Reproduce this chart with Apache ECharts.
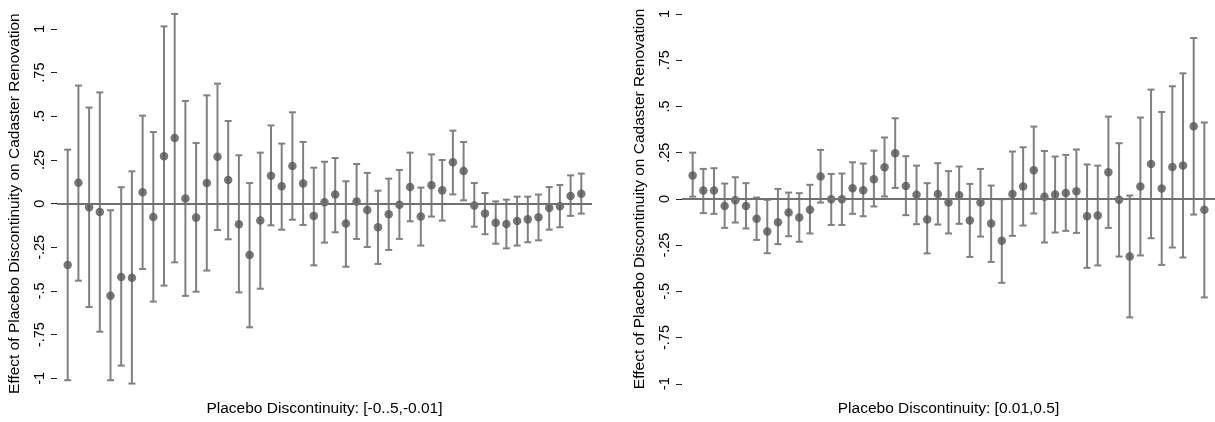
<!DOCTYPE html>
<html>
<head>
<meta charset="utf-8">
<script src="https://cdn.jsdelivr.net/npm/echarts@6/dist/echarts.min.js"></script>
<style>
  html, body { margin: 0; padding: 0; background: #fff; }
  #chart { width: 1215px; height: 422px; }
</style>
</head>
<body>
<div id="chart"></div>
<script>
// placebo cutoffs, 49 per panel, numbered 1..49 along the hidden x axis
const positions = Array.from({ length: 49 }, (_, i) => i + 1)

const yTicks = [-1, -0.75, -0.5, -0.25, 0, 0.25, 0.5, 0.75, 1]

// left panel: [-0..5,-0.01]
const leftEst = [
  -0.351, 0.120, -0.020, -0.048, -0.527, -0.420, -0.424, 0.065, -0.076, 0.271,
  0.376, 0.029, -0.080, 0.118, 0.269, 0.135, -0.118, -0.294, -0.097, 0.160,
  0.099, 0.216, 0.115, -0.070, 0.008, 0.052, -0.114, 0.013, -0.036, -0.135,
  -0.061, -0.006, 0.095, -0.074, 0.105, 0.076, 0.237, 0.187, -0.011, -0.057,
  -0.109, -0.116, -0.099, -0.090, -0.078, -0.025, -0.015, 0.044, 0.057
]
const leftLo = [
  -1.011, -0.441, -0.592, -0.733, -1.011, -0.927, -1.030, -0.374, -0.561, -0.469,
  -0.336, -0.528, -0.504, -0.383, -0.151, -0.204, -0.508, -0.708, -0.487, -0.124,
  -0.149, -0.092, -0.122, -0.353, -0.223, -0.164, -0.361, -0.202, -0.248, -0.345,
  -0.265, -0.202, -0.101, -0.240, -0.074, -0.097, 0.053, 0.019, -0.132, -0.175,
  -0.229, -0.256, -0.240, -0.221, -0.210, -0.149, -0.135, -0.070, -0.057
]
const leftHi = [
  0.309, 0.676, 0.550, 0.637, -0.038, 0.094, 0.185, 0.504, 0.410, 1.015,
  1.086, 0.588, 0.347, 0.620, 0.687, 0.473, 0.277, 0.118, 0.292, 0.448,
  0.344, 0.523, 0.353, 0.206, 0.240, 0.261, 0.128, 0.227, 0.176, 0.074,
  0.143, 0.193, 0.292, 0.092, 0.282, 0.250, 0.418, 0.353, 0.118, 0.061,
  0.013, 0.023, 0.040, 0.040, 0.052, 0.095, 0.107, 0.162, 0.172
]

// right panel: [0.01,0.5]
const rightEst = [
  0.126, 0.045, 0.045, -0.038, -0.008, -0.038, -0.108, -0.177, -0.126, -0.074,
  -0.101, -0.059, 0.121, -0.002, -0.002, 0.058, 0.047, 0.106, 0.171, 0.247,
  0.070, 0.022, -0.112, 0.027, -0.020, 0.020, -0.117, -0.020, -0.133, -0.227,
  0.027, 0.067, 0.155, 0.011, 0.023, 0.032, 0.041, -0.094, -0.090, 0.144,
  -0.005, -0.312, 0.067, 0.189, 0.056, 0.173, 0.180, 0.393, -0.059
]
const rightLo = [
  0.012, -0.077, -0.081, -0.157, -0.128, -0.160, -0.222, -0.294, -0.245, -0.202,
  -0.232, -0.187, -0.020, -0.141, -0.141, -0.081, -0.094, -0.041, 0.013, 0.059,
  -0.088, -0.137, -0.295, -0.139, -0.187, -0.135, -0.314, -0.204, -0.341, -0.454,
  -0.200, -0.144, -0.079, -0.236, -0.182, -0.173, -0.184, -0.373, -0.360, -0.157,
  -0.312, -0.641, -0.306, -0.213, -0.357, -0.263, -0.317, -0.085, -0.533
]
const rightHi = [
  0.250, 0.162, 0.166, 0.083, 0.117, 0.085, 0.007, -0.005, 0.054, 0.034,
  0.031, 0.076, 0.265, 0.135, 0.137, 0.198, 0.191, 0.261, 0.332, 0.436,
  0.231, 0.180, 0.085, 0.193, 0.150, 0.175, 0.081, 0.162, 0.072, -0.002,
  0.256, 0.279, 0.391, 0.259, 0.229, 0.238, 0.267, 0.186, 0.180, 0.445,
  0.301, 0.018, 0.440, 0.591, 0.470, 0.609, 0.679, 0.870, 0.413
]

const yTitle = 'Effect of Placebo Discontinuity on Cadaster Renovation'
const xTitles = ['Placebo Discontinuity: [-0..5,-0.01]', 'Placebo Discontinuity: [0.01,0.5]']

const font = '"Liberation Sans", Arial, Helvetica, sans-serif'
const barColor = '#808080'
const dotColor = '#555555'

function stataNum (v) {
  return String(v).replace(/^(-?)0\./, '$1.')
}

function renderBar (params, api) {
  const x = api.value(0)
  const top = api.coord([x, api.value(2)])
  const bot = api.coord([x, api.value(1)])
  const half = 3.5
  const style = { stroke: barColor, lineWidth: 2 }
  return {
    type: 'group',
    children: [
      { type: 'line', shape: { x1: top[0], y1: top[1], x2: bot[0], y2: bot[1] }, style },
      { type: 'line', shape: { x1: top[0] - half, y1: top[1], x2: top[0] + half, y2: top[1] }, style },
      { type: 'line', shape: { x1: bot[0] - half, y1: bot[1], x2: bot[0] + half, y2: bot[1] }, style }
    ]
  }
}

function xAxisFor (idx) {
  return {
    type: 'value',
    gridIndex: idx,
    min: 0,
    max: 50,
    axisLine: { show: false },
    axisTick: { show: false },
    axisLabel: { show: false },
    splitLine: { show: false },
    name: xTitles[idx],
    nameLocation: 'middle',
    nameGap: idx === 0 ? 5 : 8,
    nameTextStyle: { fontFamily: font, fontSize: 15.5, color: '#000' }
  }
}

function yAxisFor (idx, min, max) {
  return {
    type: 'value',
    gridIndex: idx,
    min,
    max,
    axisLine: { show: false },
    splitLine: { show: false },
    axisTick: { show: true, length: 6, customValues: yTicks, lineStyle: { color: '#222', width: 1 } },
    axisLabel: {
      customValues: yTicks,
      rotate: 90,
      margin: 10,
      fontFamily: font,
      fontSize: 14.5,
      color: '#000',
      formatter: stataNum
    },
    name: yTitle,
    nameLocation: 'middle',
    nameRotate: 90,
    nameGap: 34,
    nameTextStyle: { fontFamily: font, fontSize: 15.5, color: '#000' }
  }
}

function panelSeries (idx, est, lo, hi) {
  return [
    {
      type: 'custom',
      xAxisIndex: idx,
      yAxisIndex: idx,
      z: 1,
      renderItem: renderBar,
      data: positions.map((p, i) => [p, lo[i], hi[i]]),
      markLine: {
        silent: true,
        symbol: 'none',
        label: { show: false },
        lineStyle: { color: '#707070', width: 2, type: 'solid' },
        data: [{ yAxis: 0 }]
      }
    },
    {
      type: 'scatter',
      xAxisIndex: idx,
      yAxisIndex: idx,
      z: 3,
      symbol: 'circle',
      symbolSize: 8.5,
      itemStyle: { color: dotColor },
      data: positions.map((p, i) => [p, est[i]])
    }
  ]
}

const chart = echarts.init(document.getElementById('chart'))
chart.setOption({
  animation: false,
  backgroundColor: '#fff',
  grid: [
    { left: 57, top: 11.5, width: 535, height: 384.3 },
    { left: 682, top: 4.75, width: 534.5, height: 388.5 }
  ],
  xAxis: [xAxisFor(0), xAxisFor(1)],
  yAxis: [yAxisFor(0, -1.1, 1.1), yAxisFor(1, -1.05, 1.05)],
  series: [
    ...panelSeries(0, leftEst, leftLo, leftHi),
    ...panelSeries(1, rightEst, rightLo, rightHi)
  ]
})
</script>
</body>
</html>
